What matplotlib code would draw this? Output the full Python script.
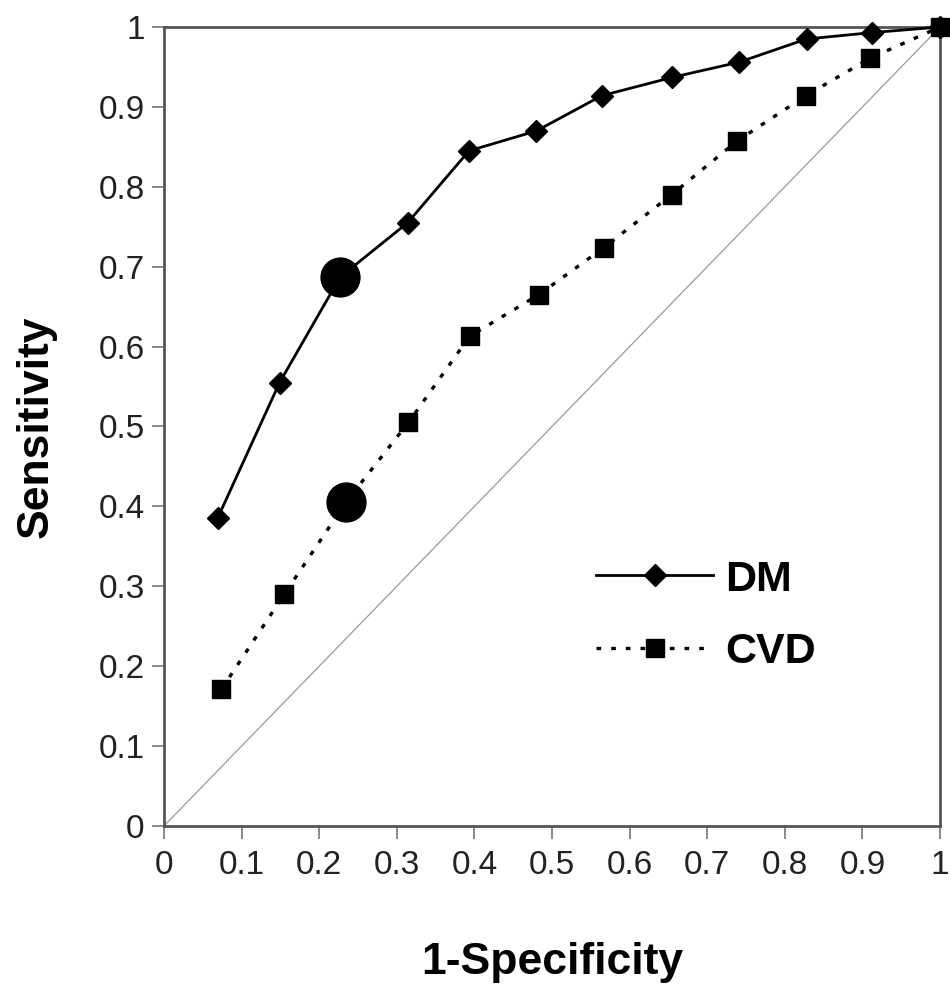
import matplotlib.pyplot as plt

# ROC points
dm_x = [0.069, 0.149, 0.227, 0.314, 0.393, 0.480, 0.564, 0.655, 0.741, 0.828, 0.912, 1.0]
dm_y = [0.385, 0.555, 0.687, 0.755, 0.845, 0.870, 0.914, 0.937, 0.956, 0.985, 0.993, 1.0]
cvd_x = [0.074, 0.155, 0.235, 0.315, 0.394, 0.483, 0.567, 0.654, 0.738, 0.827, 0.910, 1.0]
cvd_y = [0.171, 0.290, 0.406, 0.505, 0.613, 0.665, 0.724, 0.790, 0.857, 0.914, 0.961, 1.0]

# highlighted cut-off points
cut_x = [0.227, 0.235]
cut_y = [0.687, 0.406]

ticks = [0, 0.1, 0.2, 0.3, 0.4, 0.5, 0.6, 0.7, 0.8, 0.9, 1]
tick_labels = ['0', '0.1', '0.2', '0.3', '0.4', '0.5', '0.6', '0.7', '0.8', '0.9', '1']

plt.rcParams['font.family'] = ['Liberation Sans', 'DejaVu Sans']

fig = plt.figure(figsize=(9.5, 9.86), dpi=100)
ax = fig.add_axes([0.1726, 0.1623, 0.8169, 0.8103])

# chance line
ax.plot([0, 1], [0, 1], color='#999999', lw=0.9, zorder=1)

ax.plot(dm_x, dm_y, color='black', lw=2, marker='D', ms=11.5,
        label='DM', zorder=3, clip_on=False)
ax.plot(cvd_x, cvd_y, color='black', lw=2.4, ls=(0, (1.4, 3.0)),
        marker='s', ms=12.5, label='CVD', zorder=3, clip_on=False)
ax.plot(cut_x, cut_y, ls='none', marker='o', ms=28, color='black', zorder=4)

ax.set_xlim(0, 1)
ax.set_ylim(0, 1)
ax.set_xticks(ticks)
ax.set_xticklabels(tick_labels)
ax.set_yticks(ticks)
ax.set_yticklabels(tick_labels)

for side in ['left', 'right', 'top', 'bottom']:
    ax.spines[side].set_color('#555555')
    ax.spines[side].set_linewidth(2)

ax.tick_params(axis='both', direction='out', length=9, width=1.2,
               color='#777777', labelsize=24, labelcolor='#222222')
ax.tick_params(axis='x', pad=8)
ax.tick_params(axis='y', pad=5)

ax.set_xlabel('1-Specificity', fontsize=32, fontweight='bold', labelpad=44)
ax.set_ylabel('Sensitivity', fontsize=32, fontweight='bold', labelpad=30)

leg = ax.legend(loc='upper left', bbox_to_anchor=(0.535, 0.355), frameon=False,
                prop={'size': 31, 'weight': 'bold'}, handlelength=2.7,
                handletextpad=0.3, labelspacing=0.75, borderaxespad=0)

fig.savefig('out.png', dpi=100)
